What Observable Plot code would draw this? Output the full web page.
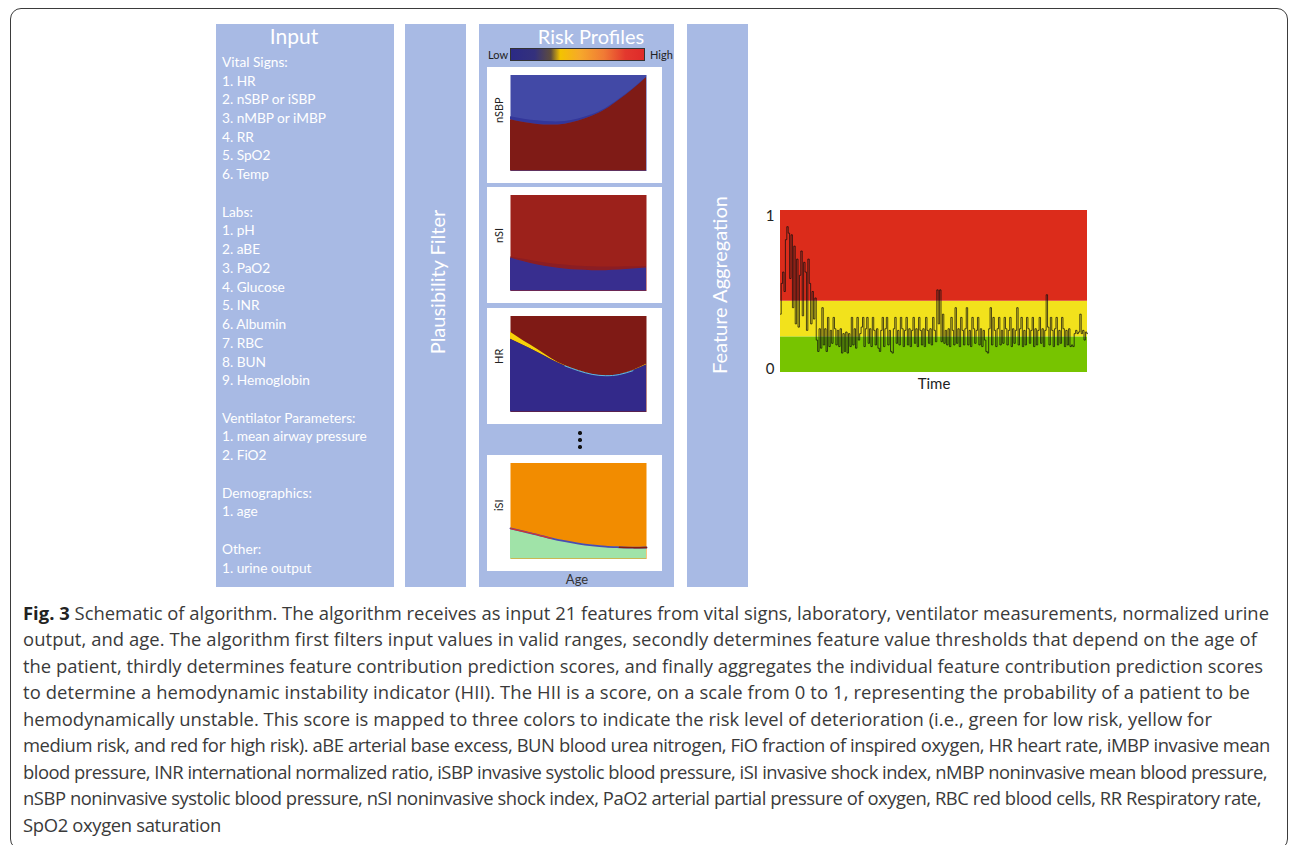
<!DOCTYPE html>
<html>
<head>
<meta charset="utf-8">
<script src="https://cdn.jsdelivr.net/npm/d3@7"></script>
<script src="https://cdn.jsdelivr.net/npm/@observablehq/plot@0.6"></script>
<style>
html,body{margin:0;padding:0;background:#fff;}
body{font-family:Lato,"Open Sans",sans-serif;}
#root{position:relative;width:1290px;height:845px;overflow:hidden;}
#frame{position:absolute;left:10px;top:8px;width:1278px;height:842px;border:1.6px solid #3b3b3b;border-radius:11px;box-sizing:border-box;}
.box{position:absolute;top:24px;height:563px;background:#a8bae4;}
.title{position:absolute;color:#fff;font-size:20px;line-height:20px;white-space:nowrap;transform:translateX(-50%);}
.vtitle{position:absolute;color:#fff;font-size:20px;line-height:20px;white-space:nowrap;transform:translate(-50%,-50%) rotate(-90deg);}
#inputList{position:absolute;left:222px;top:52.8px;color:#fff;font-size:13.7px;line-height:18.74px;white-space:pre;}
.panel{position:absolute;left:487px;}
.dot{position:absolute;width:3.4px;height:3.4px;border-radius:50%;background:#111;}
#caption{position:absolute;left:23px;top:599.6px;color:#3a3a3a;font-family:"Open Sans",sans-serif;font-size:17px;line-height:26.55px;white-space:nowrap;}
#caption span{display:inline-block;}
.small{position:absolute;font-size:11px;line-height:11px;color:#222;white-space:nowrap;}
#cbar{position:absolute;left:510px;top:48px;width:135px;height:13px;box-sizing:border-box;border:1px solid #333;}
</style>
</head>
<body>
<div id="root">
  <div id="frame"></div>
  <div class="box" style="left:216px;width:178px;"></div>
  <div class="box" style="left:405px;width:61px;"></div>
  <div class="box" style="left:479px;width:195px;"></div>
  <div class="box" style="left:687px;width:61px;"></div>
  <div class="title" style="left:294px;top:25.5px;font-size:21px;">Input</div>
  <div class="title" style="left:591px;top:25.5px;">Risk Profiles</div>
  <div class="vtitle" style="left:437px;top:282px;">Plausibility Filter</div>
  <div class="vtitle" style="left:719px;top:285px;">Feature Aggregation</div>
  <div id="inputList"></div>
  <div class="small" style="left:488px;top:48.5px;">Low</div>
  <div id="cbar"></div>
  <div class="small" style="left:650px;top:48.5px;">High</div>
  <div class="dot" style="left:578.3px;top:431.3px;"></div>
  <div class="dot" style="left:578.3px;top:438.3px;"></div>
  <div class="dot" style="left:578.3px;top:445.3px;"></div>
  <div class="small" style="left:577px;top:573px;font-size:13px;line-height:13px;transform:translateX(-50%);color:#333;">Age</div>
  <div id="caption"></div>
</div>
<script>
// ---------------- Input list ----------------
const vitalSigns = ["HR", "nSBP or iSBP", "nMBP or iMBP", "RR", "SpO2", "Temp"];
const labs = ["pH", "aBE", "PaO2", "Glucose", "INR", "Albumin", "RBC", "BUN", "Hemoglobin"];
const ventilatorParams = ["mean airway pressure", "FiO2"];
const demographics = ["age"];
const otherInputs = ["urine output"];
const inputGroupNames = ["Vital Signs:", "Labs:", "Ventilator Parameters:", "Demographics:", "Other:"];
const inputGroupItems = [vitalSigns, labs, ventilatorParams, demographics, otherInputs];

// ---------------- Colour bar ----------------
const riskColorStops = ["#2b2a86", "#34317c", "#5e4c3c", "#f3c300", "#f6a82b", "#f07a35", "#e3382e", "#df2a2a"];
const riskColorPos = [0, 18, 30, 37, 52, 70, 86, 100];

// ---------------- Risk profiles (age grid in %, boundaries as fraction of feature range) ----------------
const ageGrid = [0, 10, 20, 30, 40, 50, 60, 70, 80, 90, 100];
const nsbpRedTop  = [0.533, 0.505, 0.485, 0.478, 0.488, 0.52, 0.57, 0.64, 0.74, 0.85, 0.975];
const nsbpBandTop = [0.565, 0.54, 0.523, 0.512, 0.516, 0.542, 0.587, 0.652, 0.747, 0.854, 0.977];
const nsiBlueTop  = [0.344, 0.305, 0.272, 0.248, 0.23, 0.218, 0.212, 0.212, 0.218, 0.228, 0.24];
const nsiShadeTop = [0.355, 0.33, 0.305, 0.285, 0.27, 0.258, 0.252, 0.25, 0.25, 0.252, 0.255];
const hrBlueTop   = [0.757, 0.69, 0.62, 0.545, 0.48, 0.43, 0.392, 0.378, 0.39, 0.43, 0.49];
const hrYellowTop = [0.83, 0.738, 0.652, 0.558, 0.484, 0.432, 0.393, 0.379, 0.391, 0.432, 0.497];
const isiGreenTop = [0.318, 0.285, 0.252, 0.215, 0.185, 0.161, 0.142, 0.128, 0.122, 0.118, 0.12];

// ---------------- Hemodynamic instability indicator over time ----------------
const hiiBandFrom  = [0, 0.22, 0.44];
const hiiBandTo    = [0.22, 0.44, 1];
const hiiBandColor = ["#77c400", "#f2e21c", "#dc2c1b"];
const hiiValues = [
  0.36, 0.55, 0.62, 0.5, 0.82, 0.9, 0.86, 0.58, 0.85, 0.4,
  0.78, 0.3, 0.7, 0.28, 0.6, 0.75, 0.35, 0.68, 0.62, 0.26,
  0.7, 0.55, 0.3, 0.5, 0.33, 0.46, 0.2, 0.13, 0.27, 0.15,
  0.4, 0.17, 0.27, 0.13, 0.34, 0.16, 0.26, 0.18, 0.34, 0.27,
  0.17, 0.26, 0.16, 0.27, 0.12, 0.24, 0.13, 0.25, 0.12, 0.24,
  0.16, 0.34, 0.17, 0.27, 0.15, 0.34, 0.2, 0.24, 0.28, 0.34,
  0.16, 0.27, 0.34, 0.18, 0.27, 0.16, 0.34, 0.26, 0.17, 0.27,
  0.15, 0.13, 0.26, 0.34, 0.16, 0.27, 0.34, 0.17, 0.26, 0.13,
  0.12, 0.27, 0.34, 0.18, 0.26, 0.17, 0.34, 0.27, 0.16, 0.26,
  0.34, 0.17, 0.27, 0.16, 0.26, 0.34, 0.18, 0.27, 0.16, 0.34,
  0.26, 0.17, 0.27, 0.16, 0.34, 0.26, 0.18, 0.27, 0.17, 0.34,
  0.26, 0.19, 0.51, 0.3, 0.51, 0.19, 0.36, 0.18, 0.26, 0.17,
  0.27, 0.16, 0.34, 0.26, 0.17, 0.4, 0.18, 0.27, 0.16, 0.34,
  0.26, 0.17, 0.27, 0.4, 0.17, 0.26, 0.16, 0.34, 0.27, 0.18,
  0.26, 0.34, 0.17, 0.27, 0.16, 0.26, 0.2, 0.13, 0.12, 0.27,
  0.4, 0.17, 0.34, 0.26, 0.16, 0.27, 0.34, 0.17, 0.26, 0.18,
  0.34, 0.27, 0.17, 0.26, 0.34, 0.16, 0.27, 0.18, 0.26, 0.4,
  0.17, 0.27, 0.34, 0.16, 0.26, 0.17, 0.34, 0.27, 0.18, 0.26,
  0.34, 0.16, 0.27, 0.17, 0.26, 0.34, 0.18, 0.27, 0.16, 0.26,
  0.48, 0.28, 0.17, 0.34, 0.26, 0.16, 0.27, 0.34, 0.17, 0.26,
  0.18, 0.34, 0.27, 0.16, 0.26, 0.17, 0.27, 0.16, 0.17, 0.16,
  0.24, 0.26, 0.24, 0.25, 0.36, 0.24, 0.26, 0.2, 0.25, 0.24
];
const hiiTicks = [0, 1];

// ---------------- Caption ----------------
const captionLabel = "Fig. 3";
const captionLines = [
  "Schematic of algorithm. The algorithm receives as input 21 features from vital signs, laboratory, ventilator measurements, normalized urine",
  "output, and age. The algorithm first filters input values in valid ranges, secondly determines feature value thresholds that depend on the age of",
  "the patient, thirdly determines feature contribution prediction scores, and finally aggregates the individual feature contribution prediction scores",
  "to determine a hemodynamic instability indicator (HII). The HII is a score, on a scale from 0 to 1, representing the probability of a patient to be",
  "hemodynamically unstable. This score is mapped to three colors to indicate the risk level of deterioration (i.e., green for low risk, yellow for",
  "medium risk, and red for high risk). aBE arterial base excess, BUN blood urea nitrogen, FiO fraction of inspired oxygen, HR heart rate, iMBP invasive mean",
  "blood pressure, INR international normalized ratio, iSBP invasive systolic blood pressure, iSI invasive shock index, nMBP noninvasive mean blood pressure,",
  "nSBP noninvasive systolic blood pressure, nSI noninvasive shock index, PaO2 arterial partial pressure of oxygen, RBC red blood cells, RR Respiratory rate,",
  "SpO2 oxygen saturation"
];

// ---------------- Build text ----------------
const lines = [];
inputGroupNames.forEach((g, gi) => {
  if (gi > 0) lines.push("");
  lines.push(g);
  inputGroupItems[gi].forEach((item, k) => lines.push(`${k + 1}. ${item}`));
});
document.getElementById("inputList").textContent = lines.join("\n");

document.getElementById("cbar").style.background =
  "linear-gradient(to right," + riskColorStops.map((c, i) => `${c} ${riskColorPos[i]}%`).join(",") + ")";

// caption: one line per row, each fitted to the line length seen in the figure
const captionLeft = 23;
const captionLineRight = [1269, 1257, 1263, 1250, 1212, 1270, 1267, 1261, 221];
const cap = document.getElementById("caption");
const spans = captionLines.map((t, i) => {
  const div = document.createElement("div");
  const span = document.createElement("span");
  if (i === 0) {
    const b = document.createElement("b");
    b.textContent = captionLabel;
    b.style.color = "#222";
    span.appendChild(b);
    span.appendChild(document.createTextNode(" " + t));
  } else span.textContent = t;
  div.appendChild(span);
  cap.appendChild(div);
  return span;
});
{
  const ratios = spans.slice(0, 8).map((s, i) => (captionLineRight[i] - captionLeft) / s.getBoundingClientRect().width).sort((a, b) => a - b);
  const fs = 17 * (ratios[3] + ratios[4]) / 2;
  cap.style.fontSize = fs.toFixed(2) + "px";
  spans.forEach((s, i) => {
    const w = s.getBoundingClientRect().width;
    const n = s.textContent.length;
    s.style.letterSpacing = ((captionLineRight[i] - captionLeft - w) / n).toFixed(3) + "px";
  });
}

// ---------------- Risk profile panels ----------------
const root = document.getElementById("root");
function riskPanel(top, label, bg, layers, lineLayers) {
  const at = (arr) => (typeof arr === "number" ? arr : (d, i) => arr[i]);
  const chart = Plot.plot({
    width: 175, height: 116,
    marginLeft: 23, marginRight: 16, marginTop: 7.5, marginBottom: 12.5,
    x: {domain: [0, 100], axis: null},
    y: {domain: [0, 1], axis: null},
    style: {background: "#fff", fontFamily: "Lato", overflow: "visible"},
    marks: [
      Plot.frame({fill: bg, stroke: null}),
      ...layers.map(L => Plot.areaY(ageGrid, {x: d => d, y1: at(L.lo), y2: at(L.hi), fill: L.color, curve: "natural"})),
      ...(lineLayers || []).map(L => Plot.lineY(ageGrid, {x: d => d, y: at(L.y), stroke: L.color, strokeWidth: L.w, curve: "natural", filter: L.filter})),
      Plot.text([label], {frameAnchor: "left", rotate: -90, dx: -11, fontSize: 11, fill: "#222"})
    ]
  });
  chart.classList.add("panel");
  chart.style.top = top + "px";
  root.appendChild(chart);
}

riskPanel(66.7, "nSBP", "#4249a6", [
  {lo: nsbpRedTop, hi: nsbpBandTop, color: "#33369a"},
  {lo: 0, hi: nsbpRedTop, color: "#7f1b16"}
]);
riskPanel(186.7, "nSI", "#9c211b", [
  {lo: nsiBlueTop, hi: nsiShadeTop, color: "#8a1d24"},
  {lo: 0, hi: nsiBlueTop, color: "#382e8f"}
]);
riskPanel(307.7, "HR", "#7f1a15", [
  {lo: hrBlueTop, hi: hrYellowTop, color: "#f6d20a"},
  {lo: 0, hi: hrBlueTop, color: "#33298a"}
], [
  {y: hrBlueTop, color: "#63b9dc", w: 1, filter: d => d >= 40 && d <= 90}
]);
riskPanel(455, "iSI", "#f28c00", [
  {lo: 0, hi: isiGreenTop, color: "#a0e3a8"}
], [
  {y: isiGreenTop, color: "#4a4cb0", w: 1.8},
  {y: isiGreenTop, color: "#d8332a", w: 1.2, filter: d => d <= 30},
  {y: isiGreenTop, color: "#8a1a10", w: 1.4, filter: d => d >= 80}
]);

// ---------------- HII time chart ----------------
const bands = hiiBandFrom.map((f, i) => ({from: f, to: hiiBandTo[i], color: hiiBandColor[i]}));
const hii = Plot.plot({
  width: 335, height: 200,
  marginLeft: 20, marginRight: 8, marginTop: 10, marginBottom: 28,
  x: {domain: [0, hiiValues.length - 1], axis: null},
  y: {domain: [0, 1], axis: null},
  color: {type: "identity"},
  style: {background: "transparent", fontFamily: "Lato", fontSize: "15px", color: "#222", overflow: "visible"},
  marks: [
    Plot.rect(bands, {y1: "from", y2: "to", fill: "color"}),
    Plot.lineY(hiiValues, {x: (d, i) => i, y: d => d, curve: "step", stroke: "#111", strokeWidth: 1, strokeOpacity: 0.75}),
    Plot.axisY(hiiTicks.filter(t => t === 1), {tickSize: 0, tickPadding: 6, dy: 6, label: null, fontSize: 15, tickFormat: d => String(d)}),
    Plot.axisY(hiiTicks.filter(t => t === 0), {tickSize: 0, tickPadding: 6, dy: -3, label: null, fontSize: 15, tickFormat: d => String(d)}),
    Plot.text(["Time"], {frameAnchor: "bottom", dy: 16, fontSize: 15, fill: "#222"})
  ]
});
hii.style.position = "absolute";
hii.style.left = "760px";
hii.style.top = "200px";
root.appendChild(hii);
</script>
</body>
</html>
